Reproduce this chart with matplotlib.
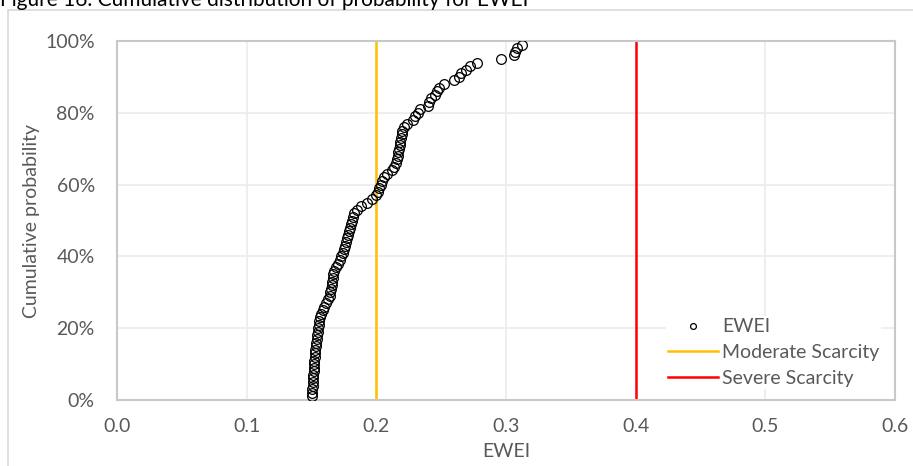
import matplotlib.pyplot as plt
from matplotlib.patches import Rectangle
from matplotlib.ticker import PercentFormatter
import numpy as np

# EWEI values sorted, one per percentile step (1% .. 99%)
ewei = [
    0.1500, 0.1503, 0.1506, 0.1508, 0.1510, 0.1512, 0.1514, 0.1516, 0.1518, 0.1520,
    0.1522, 0.1524, 0.1527, 0.1530, 0.1533, 0.1536, 0.1540, 0.1543, 0.1547, 0.1551,
    0.1555, 0.1560, 0.1565, 0.1572, 0.1585, 0.1600, 0.1615, 0.1630, 0.1640, 0.1645,
    0.1650, 0.1655, 0.1660, 0.1663, 0.1666, 0.1670, 0.1690, 0.1705, 0.1718, 0.1730,
    0.1740, 0.1750, 0.1758, 0.1766, 0.1774, 0.1780, 0.1787, 0.1795, 0.1802, 0.1810,
    0.1818, 0.1830, 0.1850, 0.1880, 0.1930, 0.1970, 0.2000, 0.2010, 0.2022, 0.2035,
    0.2045, 0.2060, 0.2080, 0.2120, 0.2140, 0.2150, 0.2158, 0.2165, 0.2170, 0.2175,
    0.2180, 0.2185, 0.2190, 0.2195, 0.2200, 0.2210, 0.2235, 0.2285, 0.2300, 0.2320,
    0.2335, 0.2400, 0.2410, 0.2420, 0.2455, 0.2470, 0.2480, 0.2520, 0.2600, 0.2640,
    0.2650, 0.2695, 0.2720, 0.2777, 0.2960, 0.3060, 0.3070, 0.3085, 0.3120,
]
prob = [(i + 1) / 100 for i in range(len(ewei))]

moderate = 0.2
severe = 0.4

x_ticks = [0.0, 0.1, 0.2, 0.3, 0.4, 0.5, 0.6]
y_ticks = [0.0, 0.2, 0.4, 0.6, 0.8, 1.0]

plt.rcParams['font.family'] = ['Lato', 'DejaVu Sans']
text_color = '#595959'

W, H = 913, 466
fig = plt.figure(figsize=(W / 100, H / 100), dpi=100)
ax = fig.add_axes([117 / W, (H - 400) / H, (895 - 117) / W, (400 - 41) / H])

ax.plot(ewei, prob, linestyle='none', marker='o', markersize=7.0,
        markerfacecolor='none', markeredgecolor='black', markeredgewidth=0.9,
        label='EWEI', zorder=3)
ax.axvline(moderate, color='#FFC000', linewidth=1.8, label='Moderate Scarcity', zorder=2)
ax.axvline(severe, color='#FF0000', linewidth=1.8, label='Severe Scarcity', zorder=2)

ax.set_xlim(0, 0.6)
ax.set_ylim(0, 1)
ax.set_xticks(x_ticks)
ax.set_yticks(y_ticks)
ax.xaxis.set_major_formatter(lambda v, p: f'{v:.1f}')
ax.yaxis.set_major_formatter(PercentFormatter(1.0, decimals=0))
ax.tick_params(length=0, labelsize=14, colors=text_color, pad=13)
ax.tick_params(axis='y', pad=16)
ax.grid(True, color='#EDEDED', linewidth=1.3, zorder=0)
ax.set_axisbelow(True)
for s in ax.spines.values():
    s.set_color('#C8C8C8')
    s.set_linewidth(1.5)

ax.set_xlabel('EWEI', fontsize=14, color=text_color, labelpad=6)
ax.set_ylabel('Cumulative probability', fontsize=14, color=text_color, labelpad=4)

leg = ax.legend(loc='lower right', bbox_to_anchor=(0.995, 0.004), frameon=True,
                fontsize=14, handlelength=2.6, handletextpad=0.2,
                labelspacing=0.45, markerscale=0.6, borderpad=0.1)
leg.get_frame().set_edgecolor('none')
leg.get_frame().set_facecolor('white')
leg.get_frame().set_alpha(1)
for t in leg.get_texts():
    t.set_color(text_color)

# chart area border, partly outside the picture
fig.patches.append(Rectangle((8 / W, -0.1), 1.2, 1 - 10 / H + 0.1,
                             transform=fig.transFigure, fill=False,
                             edgecolor='#D9D9D9', linewidth=1.2))

fig.text(0.0, 1 - 6 / H, 'Figure 16. Cumulative distribution of probability for EWEI',
         fontsize=15, color='black', va='baseline', ha='left')

fig.savefig('out.png', dpi=100)
